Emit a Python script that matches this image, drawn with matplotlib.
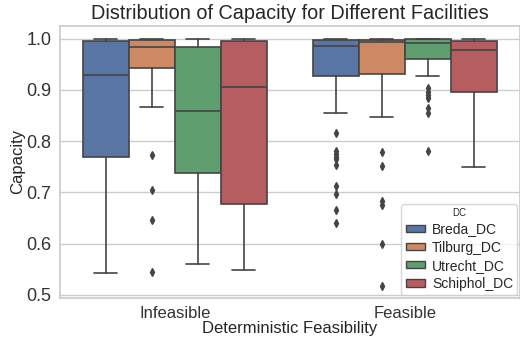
import matplotlib
matplotlib.use("Agg")
import matplotlib.pyplot as plt
from matplotlib.patches import Patch
import seaborn as sns

sns.set_theme(style="whitegrid")
plt.rcParams['font.family'] = ['Liberation Sans', 'DejaVu Sans']

feasibility = ["Infeasible", "Feasible"]
dcs = ["Breda_DC", "Tilburg_DC", "Utrecht_DC", "Schiphol_DC"]
colors = ["#5875a4", "#cc8963", "#5f9e6e", "#b55d60"]

# per feasibility group, per DC: (whislo, q1, median, q3, whishi)
infeasible_stats = [
    (0.542, 0.769, 0.930, 0.996, 1.0),
    (0.867, 0.943, 0.984, 0.9975, 1.0),
    (0.560, 0.737, 0.859, 0.983, 1.0),
    (0.549, 0.678, 0.906, 0.995, 1.0),
]
feasible_stats = [
    (0.855, 0.928, 0.986, 0.997, 1.0),
    (0.848, 0.932, 0.993, 0.998, 1.0),
    (0.928, 0.960, 0.9915, 0.9987, 1.0),
    (0.749, 0.897, 0.978, 0.996, 1.0),
]
infeasible_fliers = [
    [],
    [0.773, 0.705, 0.646, 0.545],
    [],
    [],
]
feasible_fliers = [
    [0.816, 0.780, 0.775, 0.770, 0.765, 0.754, 0.713, 0.697, 0.666, 0.641],
    [0.778, 0.751, 0.684, 0.676, 0.599, 0.518],
    [0.904, 0.897, 0.891, 0.884, 0.865, 0.855, 0.780],
    [],
]

fig = plt.figure(figsize=(5.2, 3.46), dpi=100)
ax = fig.add_axes([0.115, 0.139, 0.885, 0.786])

box_w = 0.2
offsets = [-0.3, -0.1, 0.1, 0.3]
line_col = "#444444"
lw = 1.2

for gi, (stats, fliers) in enumerate([(infeasible_stats, infeasible_fliers),
                                      (feasible_stats, feasible_fliers)]):
    for di, (s, fl) in enumerate(zip(stats, fliers)):
        lo, q1, med, q3, hi = s
        bstats = [dict(whislo=lo, q1=q1, med=med, q3=q3, whishi=hi, fliers=fl)]
        ax.bxp(bstats, positions=[gi + offsets[di]], widths=box_w,
               patch_artist=True, manage_ticks=False, capwidths=box_w / 2,
               boxprops=dict(facecolor=colors[di], edgecolor=line_col, linewidth=lw),
               medianprops=dict(color=line_col, linewidth=lw),
               whiskerprops=dict(color=line_col, linewidth=lw),
               capprops=dict(color=line_col, linewidth=lw),
               flierprops=dict(marker="d", markerfacecolor=line_col,
                               markeredgecolor=line_col, markersize=4))

ax.set_xlim(-0.5, 1.5)
ax.set_ylim(0.494, 1.025)
ax.set_xticks([0, 1])
ax.set_xticklabels(feasibility)
ax.set_yticks([0.5, 0.6, 0.7, 0.8, 0.9, 1.0])
ax.tick_params(axis="x", labelsize=12, colors="#333333", pad=0)
ax.tick_params(axis="y", labelsize=13, colors="#333333", pad=0)
ax.xaxis.grid(False)
ax.set_xlabel("Deterministic Feasibility", fontsize=12, color="#262626", labelpad=0)
ax.set_ylabel("Capacity", fontsize=12, color="#262626", labelpad=1)
ax.set_title("Distribution of Capacity for Different Facilities", fontsize=14.3,
             color="#262626", pad=5)

handles = [Patch(facecolor=c, edgecolor=line_col, label=d) for c, d in zip(colors, dcs)]
ax.legend(handles=handles, title="DC", loc="lower right", fontsize=10,
          title_fontsize=7, borderaxespad=0.2, handlelength=1.4,
          handleheight=0.4, labelspacing=0.3, borderpad=0.3, handletextpad=0.5)

fig.savefig("out.png", dpi=100)
